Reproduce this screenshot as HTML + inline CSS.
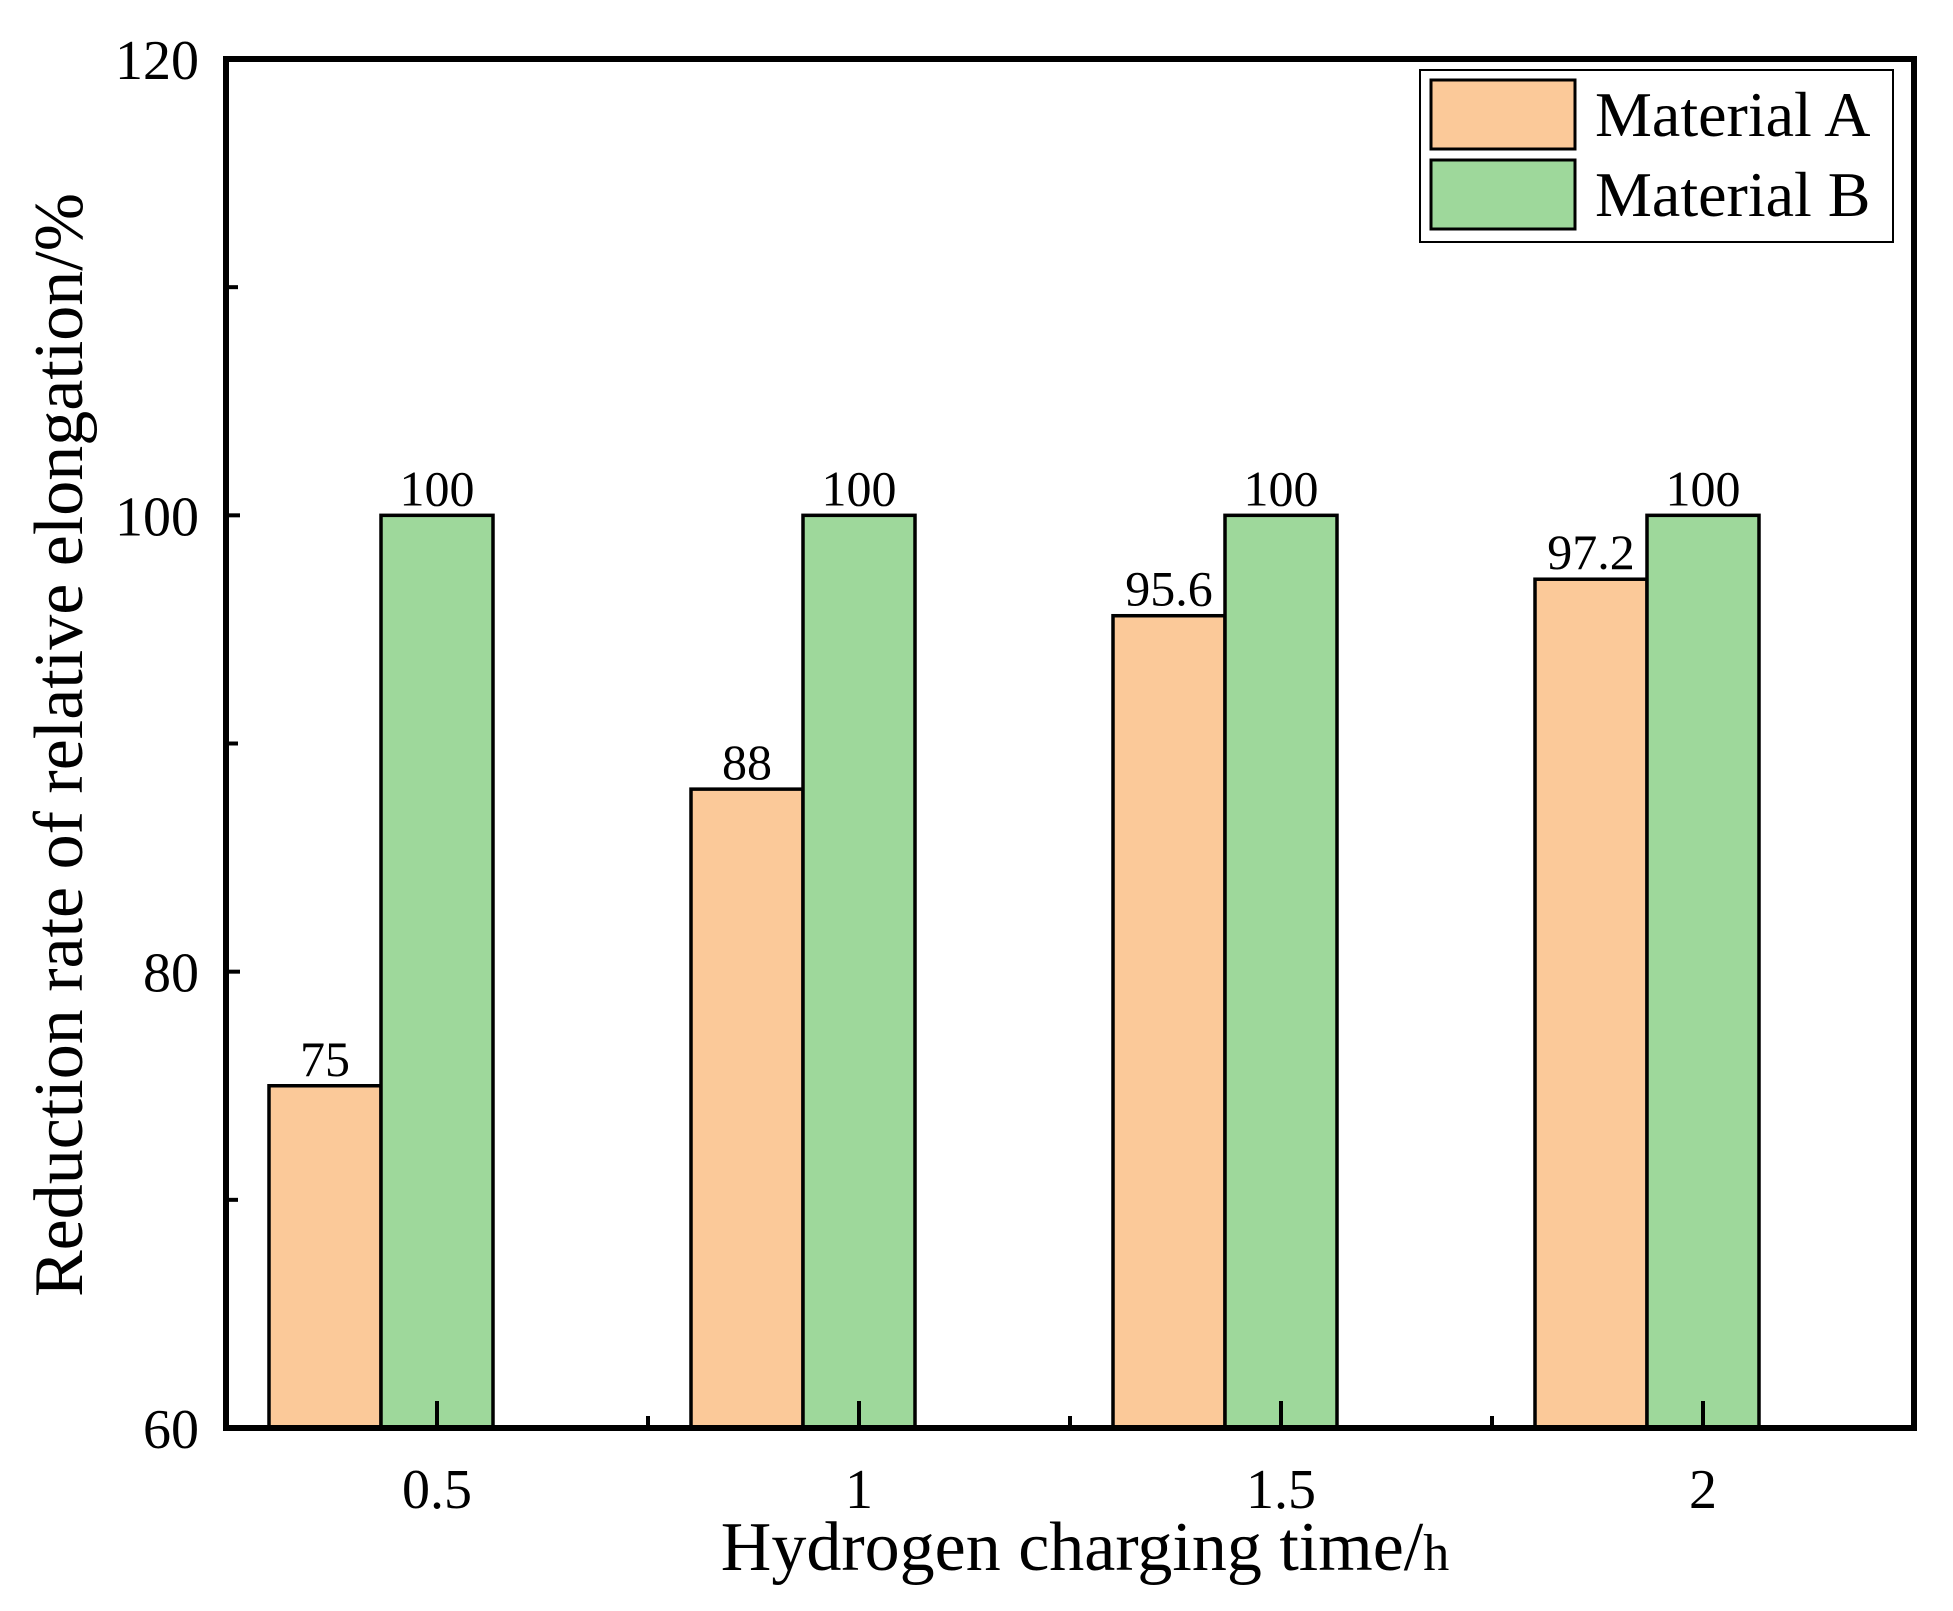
<!DOCTYPE html>
<html><head><meta charset="utf-8"><style>
body{margin:0;background:#fff}
svg{display:block;font-family:"Liberation Serif",serif}
</style></head><body>
<svg id="chart" width="1953" height="1611" viewBox="0 0 1953 1611" xmlns="http://www.w3.org/2000/svg">
<g id="bars"></g>
<g id="axes"></g>
<g id="legend"></g>
<text transform="translate(82,745) rotate(-90)" text-anchor="middle" font-size="70">Reduction rate of relative elongation/%</text>
<text x="1085" y="1570" text-anchor="middle" font-size="70">Hydrogen charging time/<tspan font-size="52">h</tspan></text>
</svg>
<script>
const categories = ["0.5","1","1.5","2"];
const catValues = [0.5,1,1.5,2];
const seriesA = [75,88,95.6,97.2];
const seriesB = [100,100,100,100];
const labelsA = ["75","88","95.6","97.2"];
const labelsB = ["100","100","100","100"];
const yTicks = [60,80,100,120];
const yMinor = [70,90,110];
const xMinor = [0.75,1.25,1.75];
const seriesNames = ["Material A","Material B"];

const NS="http://www.w3.org/2000/svg";
const X0=226,X1=1914,Y0=1428,Y1=59;
function xs(v){return X0+(v-0.25)/2*(X1-X0);}
function ys(v){return Y0-(v-60)/60*(Y0-Y1);}
function mk(tag,attrs,parent){const e=document.createElementNS(NS,tag);for(const k in attrs)e.setAttribute(k,attrs[k]);parent.appendChild(e);return e;}
const bars=document.getElementById('bars'),axes=document.getElementById('axes'),legend=document.getElementById('legend');
const BW=112;
catValues.forEach((c,i)=>{
  const cx=xs(c);
  const a=mk('rect',{x:cx-BW/2-BW,y:ys(seriesA[i]),width:BW,height:ys(60)-ys(seriesA[i]),fill:'#fbc999',stroke:'#000','stroke-width':3.5},bars);
  
  
  const b=mk('rect',{x:cx-BW/2,y:ys(seriesB[i]),width:BW,height:ys(60)-ys(seriesB[i]),fill:'#9ed89b',stroke:'#000','stroke-width':3.5},bars);
  
  
  const la=mk('text',{x:cx-BW,y:ys(seriesA[i])-10,'text-anchor':'middle','font-size':50},bars);
  la.textContent=labelsA[i];
  
  
  const lb=mk('text',{x:cx,y:ys(seriesB[i])-10,'text-anchor':'middle','font-size':50},bars);
  lb.textContent=labelsB[i];
  
  
  const t=mk('line',{x1:cx,x2:cx,y1:Y0,y2:Y0-27,stroke:'#000','stroke-width':4},axes);
  
  
  const tl=mk('text',{x:cx,y:1508,'text-anchor':'middle','font-size':56},axes);
  tl.textContent=categories[i];
  
  
});
xMinor.forEach(v=>{
  const t=mk('line',{x1:xs(v),x2:xs(v),y1:Y0,y2:Y0-12,stroke:'#000','stroke-width':4},axes);
  
  
});
yTicks.forEach(v=>{
  const t=mk('line',{x1:X0,x2:X0+14,y1:ys(v),y2:ys(v),stroke:'#000','stroke-width':4},axes);
  
  
  const tl=mk('text',{x:199,y:ys(v)+20,'text-anchor':'end','font-size':56},axes);
  tl.textContent=v;
  
  
});
yMinor.forEach(v=>{
  const t=mk('line',{x1:X0,x2:X0+12,y1:ys(v),y2:ys(v),stroke:'#000','stroke-width':4},axes);
  
  
});
const frame=mk('rect',{x:X0,y:Y1,width:X1-X0,height:Y0-Y1,fill:'none',stroke:'#000','stroke-width':6},axes);


const lb=mk('rect',{x:1420,y:70,width:473,height:172,fill:'#fff',stroke:'#000','stroke-width':2},legend);


const cols=['#fbc999','#9ed89b'];
seriesNames.forEach((n,i)=>{
  const y=80+i*80;
  const s=mk('rect',{x:1431,y:y,width:144,height:69,fill:cols[i],stroke:'#000','stroke-width':3},legend);
  
  
  const t=mk('text',{x:1595,y:y+56,'font-size':64},legend);
  t.textContent=n;
  
  
});
</script>
</body></html>
